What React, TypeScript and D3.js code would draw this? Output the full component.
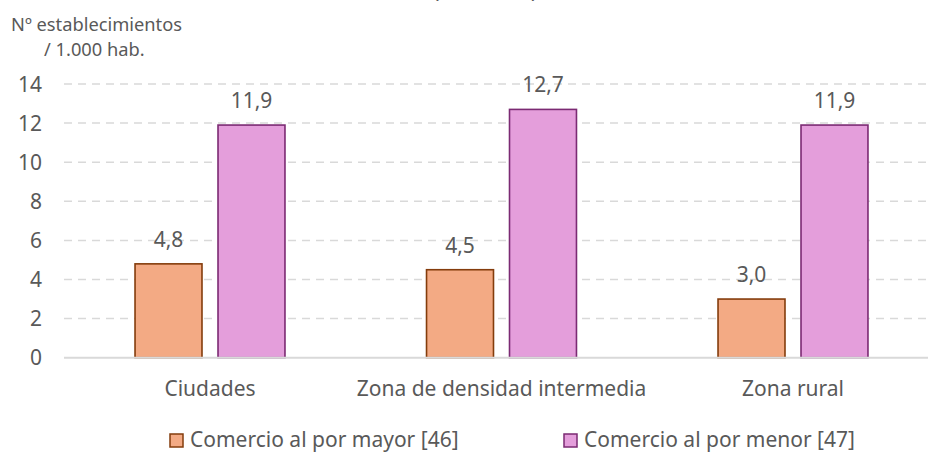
import React from "react";
import * as d3 from "d3";

const categories = ["Ciudades", "Zona de densidad intermedia", "Zona rural"];
const seriesNames = ["Comercio al por mayor [46]", "Comercio al por menor [47]"];
const mayorValues = [4.8, 4.5, 3.0];
const menorValues = [11.9, 12.7, 11.9];
const yTicks = [0, 2, 4, 6, 8, 10, 12, 14];
const yTitle = ["Nº establecimientos", "/ 1.000 hab."];

const fills = ["#F3AA84", "#E49EDB"];
const strokes = ["#843C0C", "#7B2A73"];
const textColor = "#595959";
const font = "'Noto Sans', sans-serif";

export default function App() {
  const W = 928;
  const H = 452;
  const x0 = d3.scaleBand<string>().domain(categories).range([64.25, 938.75]).paddingInner(0).paddingOuter(0);
  const x1 = d3
    .scaleBand<string>()
    .domain(seriesNames)
    .range([0, x0.bandwidth()])
    .paddingInner(0.193)
    .paddingOuter(0.853);
  const y = d3.scaleLinear().domain([0, 14]).range([357.7, 84]);
  const series = [mayorValues, menorValues];
  const fmt = (v: number) => v.toFixed(1).replace(".", ",");

  return (
    <svg width={W} height={H} style={{ position: "absolute", left: 0, top: 0, background: "#fff" }} fontFamily={font}>
      {/* cut-off title fragments */}
      <text x={433} y={-2} fontSize={21} fill={textColor}>(</text>
      <text x={531} y={-2} fontSize={21} fill={textColor}>)</text>

      {/* y axis title */}
      <text x={11} y={31} fontSize={18.3} fill={textColor}>{yTitle[0]}</text>
      <text x={44} y={56} fontSize={18.3} fill={textColor}>{yTitle[1]}</text>

      {/* gridlines */}
      {yTicks.map((t) => (
        <g key={t}>
          {t !== 0 && (
            <line x1={64} x2={W} y1={y(t)} y2={y(t)} stroke="#D9D9D9" strokeWidth={1.5} strokeDasharray="8,6" />
          )}
          <text x={42} y={y(t)} dy="0.36em" textAnchor="end" fontSize={21} fill={textColor}>
            {t}
          </text>
        </g>
      ))}

      {/* bars */}
      {categories.map((c, ci) => (
        <g key={c} transform={`translate(${x0(c)},0)`}>
          {series.map((vals, si) => {
            const bx = x1(seriesNames[si])!;
            const bw = x1.bandwidth();
            const top = y(vals[ci]);
            return (
              <g key={si}>
                <rect
                  x={bx}
                  y={top}
                  width={bw}
                  height={y(0) - top}
                  fill={fills[si]}
                  stroke={strokes[si]}
                  strokeWidth={1.6}
                />
                <text x={bx + bw / 2} y={top - 17} textAnchor="middle" fontSize={21} fill={textColor}>
                  {fmt(vals[ci])}
                </text>
              </g>
            );
          })}
          <text x={x0.bandwidth() / 2} y={396} textAnchor="middle" fontSize={21} fill={textColor}>
            {c}
          </text>
        </g>
      ))}

      {/* baseline */}
      <line x1={64} x2={W} y1={y(0)} y2={y(0)} stroke="#D9D9D9" strokeWidth={2} />

      {/* legend */}
      {seriesNames.map((s, i) => {
        const lx = i === 0 ? 170 : 564;
        return (
          <g key={s}>
            <rect x={lx} y={434} width={13} height={13} fill={fills[i]} stroke={strokes[i]} strokeWidth={1.5} />
            <text x={lx + 20} y={447} fontSize={21} fill={textColor}>
              {s}
            </text>
          </g>
        );
      })}
    </svg>
  );
}
